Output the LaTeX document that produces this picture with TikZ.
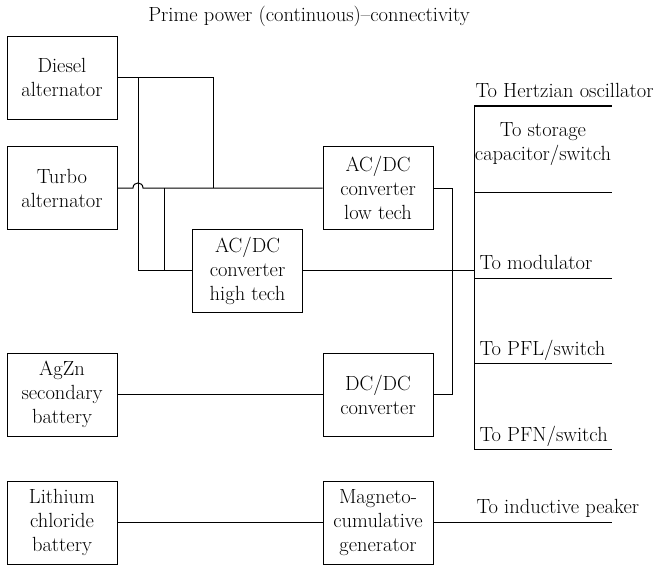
\documentclass[tikz,border=0pt]{standalone}
\usetikzlibrary{calc}

\tikzset{
  unit/.style={draw, minimum width=110pt, minimum height=83pt, inner sep=0pt,
    align=center, font=\fontsize{20.5}{24}\selectfont},
  lbl/.style={inner sep=0pt, font=\fontsize{20.5}{24}\selectfont}
}

\begin{document}
\begin{tikzpicture}[x=1pt, y=-1pt, line width=1pt]
  \useasboundingbox (0,0) rectangle (654,566);

  \node[lbl, anchor=base] (title) at (309,21) {Prime power (continuous)--connectivity};

  \node[unit] (diesel) at (62,77.5) {Diesel\\alternator};
  \node[unit] (turbo) at (62,188) {Turbo\\alternator};
  \node[unit] (lowtech) at (378,188) {AC/DC\\converter\\low tech};
  \node[unit] (hightech) at (247.5,270.5) {AC/DC\\converter\\high tech};
  \node[unit] (agzn) at (62,394.5) {AgZn\\secondary\\battery};
  \node[unit] (dcdc) at (378,394.5) {DC/DC\\converter};
  \node[unit] (lithium) at (62,522.5) {Lithium\\chloride\\battery};
  \node[unit] (magneto) at (378,522.5) {Magneto-\\cumulative\\generator};

  \coordinate (tapA) at (138,77.5);
  \coordinate (tapB) at (164,188);
  \coordinate (joinD) at (213,188);
  \draw (diesel.east) -| (joinD);
  \draw (tapA) |- (hightech.west);
  \draw (tapB) |- (hightech.west);
  \draw (turbo.east) -- (133,188) .. controls (133,181.3) and (143,181.3) .. (143,188) -- (lowtech.west);

  \draw (lowtech.east) -- ++(19,0) |- (dcdc.east);
  \draw (agzn.east) -- (dcdc.west);
  \draw (lithium.east) -- (magneto.west);

  \coordinate (bustop) at (474,106);
  \coordinate (busbot) at (474,449);
  \draw (bustop) -- (busbot);
  \draw (hightech.east) -- (hightech.east -| bustop);

  \coordinate (hertz) at (612,106);
  \draw[line width=2pt] (bustop) -- (hertz);
  \foreach \name/\yy in {storage/192, modulator/278, pfl/363, pfn/449} {
    \coordinate (\name) at (612,\yy);
    \draw (bustop |- \name) -- (\name);
  }
  \coordinate (peaker) at (612,522.5);
  \draw (magneto.east) -- (peaker);

  \node[lbl, anchor=base west] (thertz) at (475,97) {To Hertzian oscillator};
  \node[lbl, anchor=base, align=center] (tstorage) at (543,160) {To storage\\capacitor/switch};
  \node[lbl, anchor=base west] (tmod) at (479,269) {To modulator};
  \node[lbl, anchor=base west] (tpfl) at (479,355) {To PFL/switch};
  \node[lbl, anchor=base west] (tpfn) at (479,441) {To PFN/switch};
  \node[lbl, anchor=base west] (tpeaker) at (476,513) {To inductive peaker};
\end{tikzpicture}
\end{document}
